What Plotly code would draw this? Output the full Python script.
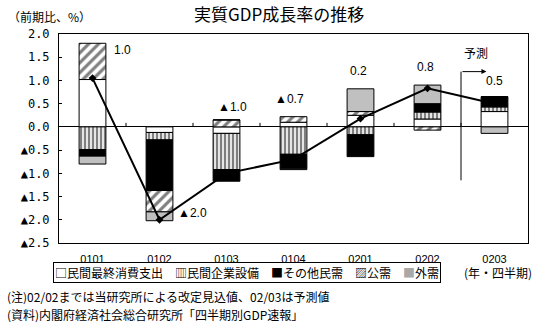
import plotly.graph_objects as go

# ---------------- data ----------------
categories = ["0101", "0102", "0103", "0104", "0201", "0202", "0203"]
private_consumption = [1.02, -0.12, -0.14, 0.10, 0.25, 0.17, 0.33]   # 民間最終消費支出
private_investment = [-0.49, -0.16, -0.78, -0.59, -0.17, 0.15, 0.10]  # 民間企業設備
other_private = [-0.14, -1.09, -0.25, -0.31, -0.47, 0.18, 0.22]       # その他民需
public_demand = [0.78, -0.46, 0.15, 0.12, 0.08, -0.07, 0.0]           # 公需
external_demand = [-0.17, -0.19, 0.0, -0.02, 0.49, 0.40, -0.14]       # 外需
gdp_growth = [1.05, -2.0, -1.0, -0.7, 0.18, 0.83, 0.5]                # 実質GDP成長率
growth_labels = ["1.0", "▲2.0", "▲1.0", "▲0.7", "0.2", "0.8", "0.5"]
ytick_vals = [2.0, 1.5, 1.0, 0.5, 0.0, -0.5, -1.0, -1.5, -2.0, -2.5]
ytick_text = ["2.0", "1.5", "1.0", "0.5", "0.0", "▲0.5", "▲1.0", "▲1.5", "▲2.0", "▲2.5"]
series_names = ["民間最終消費支出", "民間企業設備", "その他民需", "公需", "外需"]

# ---------------- layout helpers (positions only) ----------------
W, H = 541, 323
L, R, T, B = 59, 528, 34, 243
def px_x(x):
    return (x - L) / (R - L)
def px_y(y):
    return (B - y) / (B - T)

label_dx = [0.45, 0.49, 0.09, -0.06, -0.03, -0.03, 0.0]
label_y = [1.65, -1.85, 0.43, 0.59, 1.20, 1.29, 0.98]

JP = "Noto Sans CJK JP"
SANS = "Liberation Sans, Noto Sans CJK JP"
MONO = "DejaVu Sans Mono, Noto Sans CJK JP"

fig = go.Figure()
bar_common = dict(x=categories, width=0.4, marker_line_color="black", marker_line_width=1,
                  showlegend=False)
fig.add_trace(go.Bar(y=private_consumption, name=series_names[0],
                     marker=dict(color="white"), **bar_common))
fig.add_trace(go.Bar(y=private_investment, name=series_names[1],
                     marker=dict(color="white",
                                 pattern=dict(shape="|", size=4, solidity=0.6,
                                              fgcolor="black", bgcolor="white")),
                     **bar_common))
fig.add_trace(go.Bar(y=other_private, name=series_names[2],
                     marker=dict(color="black"), **bar_common))
fig.add_trace(go.Bar(y=public_demand, name=series_names[3],
                     marker=dict(color="white",
                                 pattern=dict(shape="/", size=7, solidity=0.45,
                                              fgcolor="black", bgcolor="white")),
                     **bar_common))
fig.add_trace(go.Bar(y=external_demand, name=series_names[4],
                     marker=dict(color="#c0c0c0"), **bar_common))
fig.add_trace(go.Scatter(x=categories, y=gdp_growth, mode="lines+markers",
                         name="実質GDP成長率", showlegend=False,
                         line=dict(color="black", width=2),
                         marker=dict(symbol="diamond", size=6, color="black")))

annotations = []
for i, (lab, dx, ly) in enumerate(zip(growth_labels, label_dx, label_y)):
    annotations.append(dict(x=i + dx, y=ly, xref="x", yref="y", text=lab, showarrow=False,
                            xanchor="center", yanchor="middle",
                            font=dict(family=SANS, size=12, color="black")))

# forecast marker
annotations.append(dict(x=5.88, y=1.19, ax=5.5, ay=1.19, xref="x", yref="y",
                        axref="x", ayref="y", text="", showarrow=True,
                        arrowhead=2, arrowsize=1, arrowwidth=1, arrowcolor="black"))
annotations.append(dict(x=5.72, y=1.60, xref="x", yref="y", text="予測", showarrow=False,
                        xanchor="center", yanchor="middle",
                        font=dict(family=JP, size=12, color="black")))


def paper_text(x, y, text, size=12, xanchor="center", **kw):
    d = dict(x=px_x(x), y=px_y(y), xref="paper", yref="paper", text=text,
             showarrow=False, xanchor=xanchor, yanchor="middle",
             font=dict(family=JP, size=size, color="black"))
    d.update(kw)
    return d


annotations.append(paper_text(279, 13, "実質GDP成長率の推移", size=17))
annotations.append(paper_text(6, 16, "（前期比、%）", xanchor="left"))
legend_text = ("□" + series_names[0] + "\u3000▥" + series_names[1] + "\u3000■" +
               series_names[2] + "\u3000▨" + series_names[3] +
               "\u3000<span style='color:#a8a8a8'>■</span>" + series_names[4])
annotations.append(paper_text(246.5, 272.5, legend_text, bordercolor="black",
                              borderwidth=1, borderpad=1))
annotations.append(paper_text(498, 272, "(年・四半期)"))
annotations.append(paper_text(5, 296, "(注)02/02までは当研究所による改定見込値、02/03は予測値",
                              xanchor="left"))
annotations.append(paper_text(5, 314, "(資料)内閣府経済社会総合研究所「四半期別GDP速報」",
                              xanchor="left"))

# forecast divider and category-boundary tick marks on the zero line
shapes = [dict(type="line", xref="x", yref="y", x0=5.5, x1=5.5, y0=-1.15, y1=1.19,
               line=dict(color="black", width=1))]
for i in range(len(categories) - 1):
    shapes.append(dict(type="line", xref="x", yref="y", ysizemode="pixel", yanchor=0,
                       x0=i + 0.5, x1=i + 0.5, y0=0, y1=4,
                       line=dict(color="black", width=1)))

fig.update_layout(
    width=W, height=H,
    margin=dict(l=L, r=W - R, t=T, b=H - B, pad=0),
    paper_bgcolor="white", plot_bgcolor="white",
    barmode="relative", bargap=0.6,
    xaxis=dict(type="category", range=[-0.5, 6.5], showline=True, mirror=True,
               linecolor="black", linewidth=1, ticks="", showgrid=False, zeroline=False,
               tickfont=dict(family=SANS, size=11, color="black"), ticklabelstandoff=6),
    yaxis=dict(range=[-2.5, 2.0], tickvals=ytick_vals, ticktext=ytick_text,
               ticks="inside", ticklen=3, tickcolor="black", showline=True, mirror=True,
               linecolor="black", linewidth=1, showgrid=False,
               zeroline=True, zerolinecolor="black", zerolinewidth=1,
               tickfont=dict(family=MONO, size=12, color="black"), ticklabelstandoff=6),
    annotations=annotations,
    shapes=shapes,
    showlegend=False,
)

fig.write_html("out.html")
